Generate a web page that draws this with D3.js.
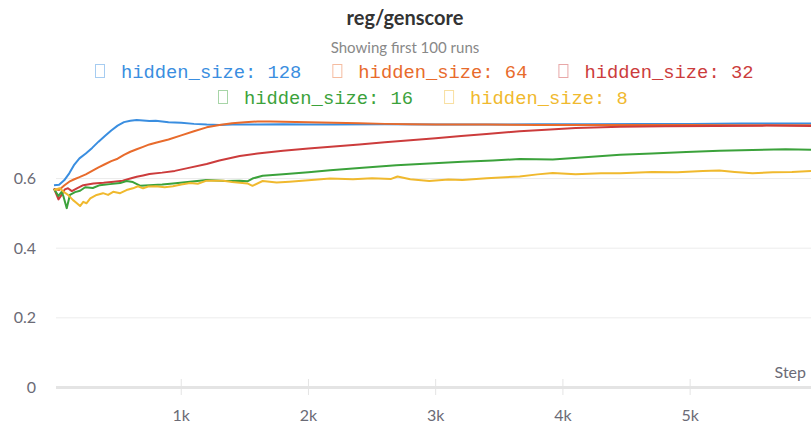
<!DOCTYPE html>
<html>
<head>
<meta charset="utf-8">
<script src="https://cdn.jsdelivr.net/npm/d3@7"></script>
<style>
  body { margin: 0; background: #fff; }
  svg { display: block; font-family: Lato, "Open Sans", sans-serif; }
</style>
</head>
<body>
<script>
var title = "reg/genscore",
    subtitle = "Showing first 100 runs";

var seriesNames = ["hidden_size: 128", "hidden_size: 64", "hidden_size: 32", "hidden_size: 16", "hidden_size: 8"];
var seriesColors = ["#3a8ee0", "#e86b2c", "#cc3c3c", "#3ba23b", "#f0b92e"];

var yTicks = [0, 0.2, 0.4, 0.6];
var xTicks = [1000, 2000, 3000, 4000, 5000];

// [step, value]
var hs128 = [[0,0.581],[40,0.582],[80,0.595],[120,0.615],[160,0.640],[200,0.658],[250,0.672],[300,0.688],
  [350,0.706],[400,0.722],[450,0.738],[500,0.752],[550,0.762],[600,0.766],[650,0.768],[700,0.767],
  [750,0.765],[800,0.766],[900,0.762],[1000,0.760],[1100,0.757],[1200,0.755],[1300,0.754],[1400,0.755],
  [1600,0.755],[1800,0.756],[2000,0.755],[2200,0.755],[2600,0.756],[3000,0.755],[3400,0.755],[3800,0.756],
  [4200,0.756],[4600,0.757],[5000,0.757],[5400,0.758],[5950,0.758]];

var hs64 = [[0,0.570],[40,0.567],[80,0.580],[120,0.591],[160,0.598],[200,0.604],[250,0.612],[300,0.622],
  [350,0.632],[400,0.641],[450,0.650],[500,0.657],[550,0.668],[600,0.677],[650,0.684],[700,0.691],
  [750,0.698],[800,0.703],[900,0.712],[1000,0.724],[1100,0.736],[1200,0.747],[1300,0.754],[1400,0.759],
  [1500,0.762],[1600,0.764],[1700,0.764],[1800,0.763],[2000,0.762],[2200,0.760],[2400,0.759],[2600,0.757],
  [2800,0.756],[3000,0.755],[3400,0.755],[3800,0.754],[4200,0.754],[4600,0.754],[5000,0.754],[5400,0.753],
  [5950,0.753]];

var hs32 = [[0,0.572],[35,0.540],[60,0.553],[85,0.569],[110,0.572],[140,0.564],[180,0.572],[230,0.581],
  [310,0.586],[390,0.588],[470,0.591],[540,0.594],[600,0.600],[650,0.605],[700,0.609],[750,0.613],
  [850,0.617],[950,0.622],[1050,0.630],[1200,0.642],[1300,0.652],[1460,0.665],[1600,0.672],[1800,0.680],
  [2000,0.686],[2200,0.692],[2400,0.698],[2600,0.704],[2800,0.710],[3000,0.716],[3200,0.722],[3400,0.728],
  [3660,0.736],[3900,0.741],[4100,0.745],[4450,0.749],[4800,0.750],[5200,0.751],[5600,0.752],[5950,0.751]];

var hs16 = [[0,0.570],[35,0.550],[60,0.562],[75,0.548],[100,0.515],[125,0.553],[165,0.561],[205,0.565],
  [245,0.575],[305,0.573],[360,0.581],[440,0.584],[520,0.587],[570,0.593],[620,0.590],[680,0.579],
  [750,0.581],[850,0.583],[935,0.586],[1050,0.590],[1200,0.596],[1350,0.593],[1460,0.594],[1520,0.592],
  [1560,0.600],[1640,0.608],[1800,0.612],[2000,0.618],[2170,0.624],[2400,0.630],[2690,0.638],[2950,0.643],
  [3210,0.648],[3450,0.652],[3660,0.656],[3920,0.655],[4200,0.662],[4450,0.668],[4700,0.672],[4970,0.676],
  [5230,0.680],[5490,0.682],[5750,0.684],[5950,0.683]];

var hs8 = [[0,0.567],[45,0.572],[75,0.562],[110,0.553],[150,0.538],[180,0.529],[205,0.521],[230,0.533],
  [255,0.529],[285,0.543],[335,0.553],[385,0.558],[425,0.553],[465,0.562],[520,0.558],[570,0.567],
  [620,0.572],[660,0.578],[700,0.572],[740,0.577],[800,0.578],[870,0.575],[935,0.578],[1000,0.583],
  [1070,0.587],[1130,0.585],[1200,0.594],[1330,0.594],[1400,0.590],[1460,0.588],[1520,0.586],[1560,0.579],
  [1640,0.593],[1750,0.589],[1850,0.591],[2000,0.595],[2170,0.600],[2350,0.598],[2500,0.601],[2650,0.599],
  [2700,0.606],[2800,0.598],[2950,0.593],[3100,0.597],[3210,0.596],[3400,0.601],[3660,0.606],[3800,0.612],
  [3920,0.616],[4100,0.612],[4300,0.615],[4450,0.615],[4700,0.619],[4900,0.618],[5100,0.622],[5230,0.623],
  [5350,0.619],[5490,0.615],[5650,0.618],[5800,0.619],[5950,0.622]];

var allSeries = [hs128, hs64, hs32, hs16, hs8];

var width = 811,
    height = 428;

var svg = d3.select("body").append("svg")
    .attr("width", width)
    .attr("height", height);

var x = d3.scaleLinear().domain([0, 5950]).range([54, 811]);
var y = d3.scaleLinear().domain([0, 0.8]).range([387.5, 108.9]);

// title
svg.append("text")
    .attr("x", 405).attr("y", 25)
    .attr("text-anchor", "middle")
    .attr("font-size", 20).attr("font-weight", "bold")
    .attr("fill", "#333")
    .text(title);

svg.append("text")
    .attr("x", 405).attr("y", 53)
    .attr("text-anchor", "middle")
    .attr("font-size", 15)
    .attr("fill", "#888")
    .text(subtitle);

// legend
var legendRows = [[0, 1, 2], [3, 4]],
    rowStart = [95, 218],
    rowBase = [78, 104];

legendRows.forEach(function(row, r) {
  var cx = rowStart[r];
  row.forEach(function(i) {
    var g = svg.append("g").attr("transform", "translate(" + cx + "," + rowBase[r] + ")");
    g.append("rect")
        .attr("x", 0.5).attr("y", -13.5)
        .attr("width", 9).attr("height", 13)
        .attr("fill", "none")
        .attr("stroke", seriesColors[i])
        .attr("stroke-opacity", 0.45);
    var t = g.append("text")
        .attr("x", 26).attr("y", 0)
        .attr("font-family", "'Liberation Mono', 'DejaVu Sans Mono', monospace")
        .attr("font-size", 18.8)
        .attr("fill", seriesColors[i])
        .text(seriesNames[i]);
    cx += 26 + t.node().getComputedTextLength() + 31;
  });
});

// grid
svg.append("g").selectAll("line")
    .data(yTicks.filter(function(d) { return d > 0; }))
  .enter().append("line")
    .attr("x1", 56).attr("x2", width)
    .attr("y1", function(d) { return y(d); })
    .attr("y2", function(d) { return y(d); })
    .attr("stroke", "#ececec");

svg.append("line")
    .attr("x1", 56).attr("x2", width)
    .attr("y1", y(0)).attr("y2", y(0))
    .attr("stroke", "#e4e4e4")
    .attr("stroke-width", 3);

svg.append("g").selectAll("line")
    .data(xTicks)
  .enter().append("line")
    .attr("x1", function(d) { return x(d); })
    .attr("x2", function(d) { return x(d); })
    .attr("y1", 379).attr("y2", 395)
    .attr("stroke", "#e4e4e4");

// axis labels
svg.append("g").selectAll("text")
    .data(yTicks)
  .enter().append("text")
    .attr("x", 36)
    .attr("y", function(d) { return y(d); })
    .attr("dy", "0.35em")
    .attr("text-anchor", "end")
    .attr("font-size", 16)
    .attr("fill", "#6b6b76")
    .text(function(d) { return d === 0 ? "0" : d3.format(".1f")(d); });

svg.append("g").selectAll("text")
    .data(xTicks)
  .enter().append("text")
    .attr("x", function(d) { return x(d); })
    .attr("y", 421)
    .attr("text-anchor", "middle")
    .attr("font-size", 16)
    .attr("fill", "#6b6b76")
    .text(function(d) { return d / 1000 + "k"; });

svg.append("text")
    .attr("x", 806).attr("y", 378)
    .attr("text-anchor", "end")
    .attr("font-size", 16)
    .attr("fill", "#6b6b76")
    .text("Step");

// lines
var line = d3.line()
    .x(function(d) { return x(d[0]); })
    .y(function(d) { return y(d[1]); });

svg.append("g").selectAll("path")
    .data(allSeries)
  .enter().append("path")
    .attr("d", line)
    .attr("fill", "none")
    .attr("stroke", function(d, i) { return seriesColors[i]; })
    .attr("stroke-width", 2)
    .attr("stroke-linejoin", "round");
</script>
</body>
</html>
